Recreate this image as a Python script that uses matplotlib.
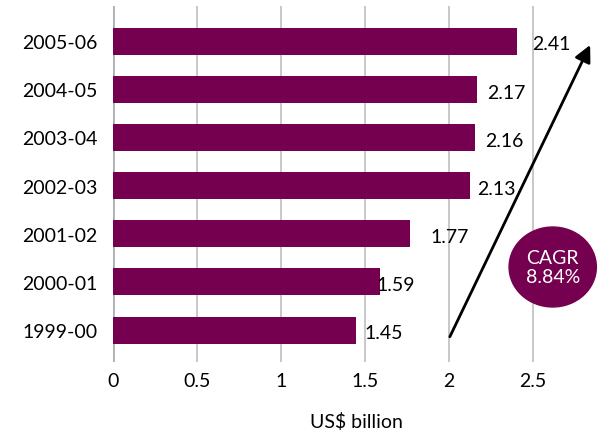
import matplotlib.pyplot as plt
from matplotlib.patches import Ellipse

plt.rcParams['font.family'] = ['Lato', 'DejaVu Sans']

years = ['1999-00', '2000-01', '2001-02', '2002-03', '2003-04', '2004-05', '2005-06']
values = [1.45, 1.59, 1.77, 2.13, 2.16, 2.17, 2.41]
ticks = [0, 0.5, 1, 1.5, 2, 2.5]
tick_labels = ['0', '0.5', '1', '1.5', '2', '2.5']
cagr_text = 'CAGR\n8.84%'

# label offsets (data units) - they were placed by hand in the original
label_dx = [0.05, -0.02, 0.12, 0.04, 0.06, 0.06, 0.09]

bar_color = '#75004f'

fig = plt.figure(figsize=(6.07, 4.31), dpi=100)
ax = fig.add_axes([0.186, 0.158, 0.802, 0.826])

ypos = list(range(len(years)))
ax.barh(ypos, values, height=0.56, color=bar_color, zorder=3)

for y, v, dx in zip(ypos, values, label_dx):
    ax.text(v + dx, y - 0.06, f'{v:.2f}', va='center', ha='left', fontsize=14, zorder=4)

ax.set_xlim(0, 2.9)
ax.set_ylim(-0.66, 6.73)
ax.set_xticks(ticks)
ax.set_xticklabels(tick_labels, fontsize=14)
ax.set_yticks(ypos)
ax.set_yticklabels(years, fontsize=14)
ax.tick_params(axis='both', length=0)
ax.tick_params(axis='x', pad=7)
ax.tick_params(axis='y', pad=11)
ax.grid(axis='x', color='#c4c4c4', linewidth=1.3, zorder=0)
for s in ax.spines.values():
    s.set_visible(False)
ax.axvline(0, color='#b0b0b0', linewidth=2, zorder=2)

ax.set_xlabel('US$ billion', fontsize=14, labelpad=17)

# growth arrow
ax.annotate('', xy=(2.85, 5.97), xytext=(2.0, -0.19),
            arrowprops=dict(arrowstyle='-|>,head_length=1.0,head_width=0.5',
                            color='black', lw=2),
            zorder=5, annotation_clip=False)

# CAGR bubble
circ = Ellipse((2.62, 1.31), 0.52, 1.66, color=bar_color, zorder=5, clip_on=False)
ax.add_patch(circ)
ax.text(2.62, 1.31, cagr_text, color='white', ha='center', va='center',
        fontsize=14, zorder=6, linespacing=1.1)

plt.savefig('out.png', dpi=100)
